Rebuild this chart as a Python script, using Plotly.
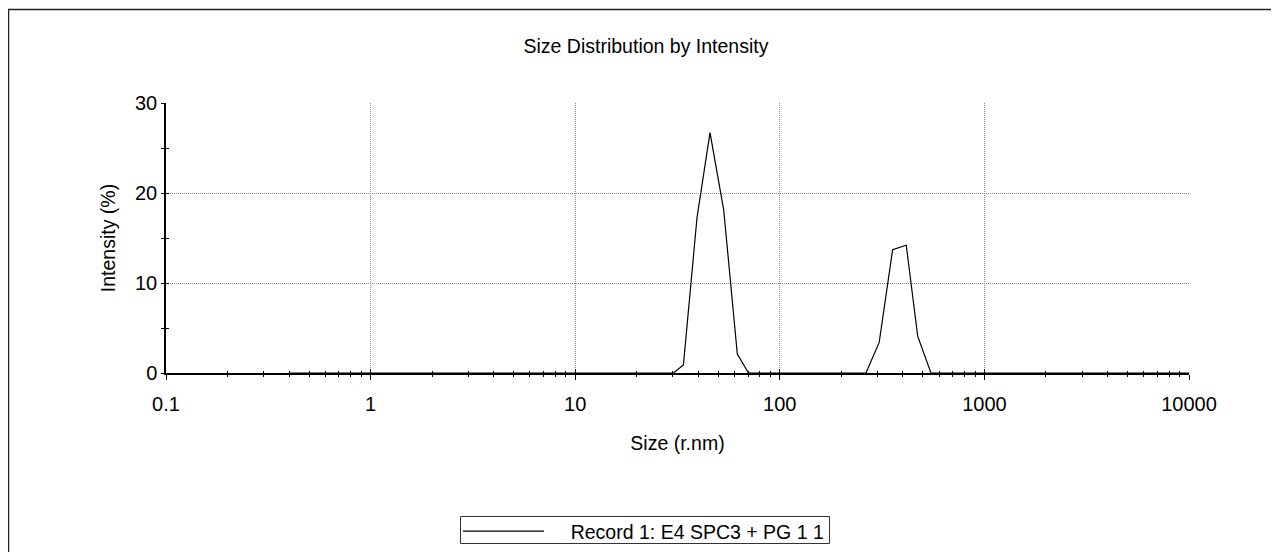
import plotly.graph_objects as go

# Data (size in r.nm, intensity in %)
sizes = [0.4, 30.2, 33.8, 39.4, 45.6, 53.2, 62.0, 70.3,
         263.7, 306.0, 356.0, 415.0, 472.0, 548.0, 10000.0]
intensity = [0.0, 0.0, 0.9, 17.3, 26.7, 18.1, 2.1, 0.0,
             0.0, 3.4, 13.7, 14.2, 4.1, 0.0, 0.0]
series_name = "Record 1: E4 SPC3 + PG 1 1"
title_text = "Size Distribution by Intensity"
x_title = "Size (r.nm)"
y_title = "Intensity (%)"
x_tickvals = [0.1, 1, 10, 100, 1000, 10000]
x_ticktext = ["0.1", "1", "10", "100", "1000", "10000"]
y_tickvals = [0, 10, 20, 30]

FONT = "Liberation Sans, Arial, sans-serif"

# page body has an 8px margin: work in screenshot pixels and shift
OFF = 8
W, H = 1279 - OFF, 552 - OFF
L, T = 166 - OFF, 103 - OFF
pw, ph = 1023, 270
R, B = W - L - pw, H - T - ph


def px_x(px):
    return (px - OFF - L) / pw


def px_y(py):
    return (T + ph - (py - OFF)) / ph


fig = go.Figure()
fig.add_trace(go.Scatter(
    x=sizes, y=intensity, mode="lines",
    name="\u00a0\u00a0\u00a0\u00a0" + series_name,
    line=dict(color="black", width=1.2), showlegend=True,
))

grid = dict(showgrid=True, gridcolor="#8c8c8c", gridwidth=1, griddash="1px,1px")

fig.update_layout(
    width=W, height=H,
    margin=dict(l=L, r=R, t=T, b=B, autoexpand=False),
    paper_bgcolor="white", plot_bgcolor="white",
    font=dict(family=FONT, size=20, color="black"),
    title=dict(text=title_text, x=(646 - OFF) / W, xanchor="center", xref="container",
               y=1 - (46 - OFF) / H, yanchor="middle", font=dict(size=19.5, color="black")),
    xaxis=dict(
        type="log", range=[-1, 4], tickvals=x_tickvals, ticktext=x_ticktext,
        showline=True, linecolor="black", linewidth=1.5,
        ticks="outside", ticklen=5, tickcolor="black", tickwidth=1,
        minor=dict(ticks="outside", ticklen=2, tickcolor="black", tickwidth=1,
                   dtick="D1", showgrid=False),
        zeroline=False, ticklabelstandoff=7,
        title=dict(text=x_title, standoff=23, font=dict(size=19.5)),
        **grid,
    ),
    xaxis2=dict(
        type="log", range=[-1, 4], overlaying="x", matches="x", anchor="y", side="bottom",
        tickvals=x_tickvals, showticklabels=False, showgrid=False, showline=False,
        ticks="inside", ticklen=4, tickcolor="black", tickwidth=1,
        minor=dict(ticks="inside", ticklen=2, tickcolor="black", tickwidth=1, dtick="D1"),
        zeroline=False,
    ),
    yaxis=dict(
        range=[0, 30], tickvals=y_tickvals,
        showline=True, linecolor="black", linewidth=1.5,
        ticks="outside", ticklen=3, tickcolor="black", tickwidth=1,
        minor=dict(ticks="outside", ticklen=3, tickcolor="black", tickwidth=1,
                   dtick=5, showgrid=False),
        zeroline=False, ticklabelstandoff=0,
        title=dict(text=y_title, standoff=14, font=dict(size=19.5)),
        **grid,
    ),
    yaxis2=dict(
        range=[0, 30], overlaying="y", matches="y", anchor="x", side="left",
        tickvals=y_tickvals, showticklabels=False, showgrid=False, showline=False,
        ticks="inside", ticklen=3, tickcolor="black", tickwidth=1,
        minor=dict(ticks="inside", ticklen=3, tickcolor="black", tickwidth=1, dtick=5),
        zeroline=False,
    ),
    legend=dict(
        x=px_x(458), y=px_y(551), xanchor="left", yanchor="bottom",
        borderwidth=0, bgcolor="rgba(0,0,0,0)",
        font=dict(size=19.5, color="black"), itemwidth=81,
    ),
    shapes=[
        # outer frame of the report
        dict(type="rect", xref="paper", yref="paper",
             x0=px_x(8.5), x1=px_x(1320), y0=px_y(620), y1=px_y(9.5),
             line=dict(color="#222", width=1.5), fillcolor="rgba(0,0,0,0)", layer="below"),
        # legend frame
        dict(type="rect", xref="paper", yref="paper",
             x0=px_x(460.5), x1=px_x(829.5), y0=px_y(543.5), y1=px_y(516.5),
             line=dict(color="#333", width=1), fillcolor="rgba(0,0,0,0)", layer="below"),
    ],
)

# invisible helper trace so the overlaid tick axes are drawn
fig.add_trace(go.Scatter(x=[1], y=[0], xaxis="x2", yaxis="y2", mode="markers",
                         marker=dict(opacity=0), showlegend=False, hoverinfo="skip"))

fig.write_html("out.html")
